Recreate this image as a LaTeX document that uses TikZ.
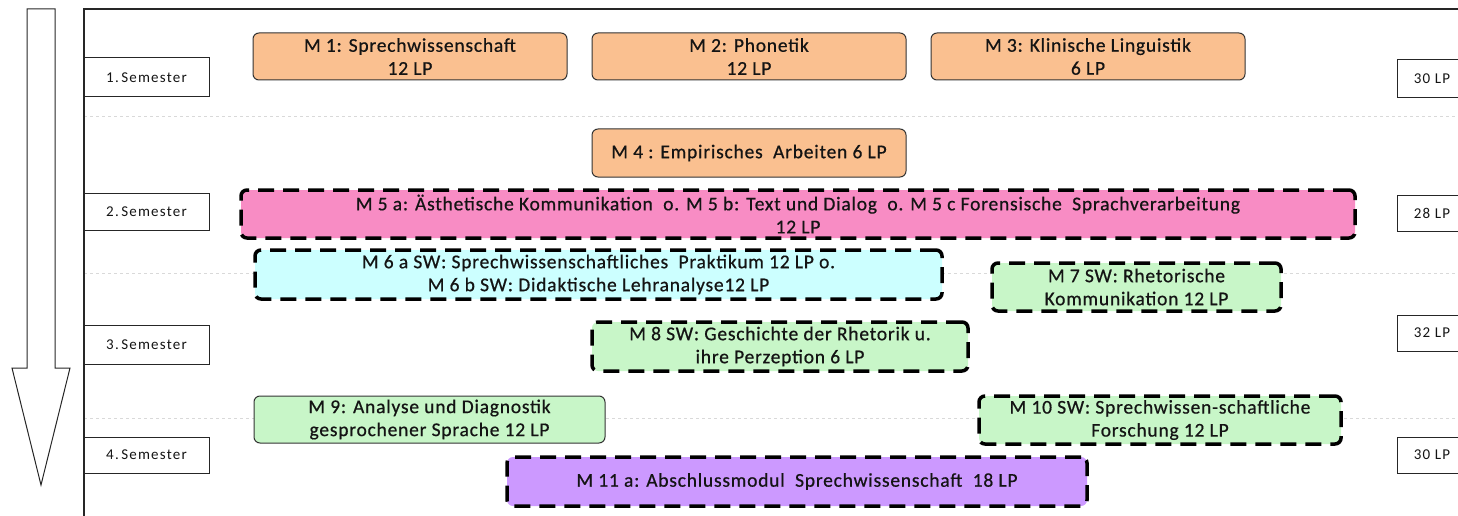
\documentclass[tikz,border=0pt]{standalone}
\usepackage{fontspec}
\setmainfont{Carlito}
\definecolor{orange}{RGB}{250,192,144}
\definecolor{rosa}{RGB}{248,140,196}
\definecolor{cyan}{RGB}{204,255,255}
\definecolor{gruen}{RGB}{200,246,200}
\definecolor{lila}{RGB}{204,153,255}
\definecolor{schrift}{RGB}{20,20,20}
\tikzset{
	modul/.style={rounded corners=6pt,align=center,inner sep=0pt,text=schrift,font=\fontsize{19.5}{23}\selectfont\addfontfeature{LetterSpace=4,FakeBold=0.6}},
	fest/.style={modul,draw=black!80,line width=1pt},
	wahl/.style={modul,draw=black,line width=3.5pt,dash pattern=on 16pt off 9pt},
	sem/.style={draw=black!85,line width=1pt,minimum width=125pt,inner sep=0pt,text=schrift,font=\fontsize{15}{17}\selectfont\addfontfeature{LetterSpace=8}},
	lp/.style={sem,minimum width=70pt}
}
\begin{document}
\begin{tikzpicture}[x=1pt,y=-1pt]
	\useasboundingbox (0,0) rectangle (1458,516);
	%separators
	\foreach \y in {117,273,418}
		\draw[black!15,dashed,line width=1pt] (84,\y) -- (1458,\y);
	%frame
	\draw[black!85,line width=1.2pt] (84,516) -- (84,9) -- (1458,9);
	%arrow
	\draw[black!85,line width=1pt] (27,9) -- (55,9) -- (55,368) -- (70,368) -- (41,485) -- (12,368) -- (27,368) -- cycle;

	%semester boxes
	\node[sem,minimum height=39pt] (sem1) at (146.5,77.5) {1.\,Semester};
	\node[sem,minimum height=37pt] (sem2) at (146.5,211.5) {2.\,Semester};
	\node[sem,minimum height=39pt] (sem3) at (146.5,344.5) {3.\,Semester};
	\node[sem,minimum height=36pt] (sem4) at (146.5,455) {4.\,Semester};

	%credit boxes
	\node[lp,minimum height=38pt] (lp1) at (1432,79) {30 LP};
	\node[lp,minimum height=36pt] (lp2) at (1432,213) {28 LP};
	\node[lp,minimum height=36pt] (lp3) at (1432,333) {32 LP};
	\node[lp,minimum height=36pt] (lp4) at (1432,455) {30 LP};

	%1. semester
	\node[fest,fill=orange,minimum width=314pt,minimum height=47pt] (m1) at (410,56.5) {M 1: Sprechwissenschaft\\12 LP};
	\node[fest,fill=orange,minimum width=314pt,minimum height=47pt] (m2) at (749,56.5) {M 2: Phonetik\\12 LP};
	\node[fest,fill=orange,minimum width=314pt,minimum height=47pt] (m3) at (1088,56.5) {M 3: Klinische Linguistik\\6 LP};

	%2. semester
	\node[fest,fill=orange,minimum width=314pt,minimum height=48pt] (m4) at (749,153) {M 4 : Empirisches\ \ Arbeiten 6 LP};
	\node[wahl,fill=rosa,minimum width=1114pt,minimum height=48pt] (m5) at (798,214) {M 5 a: Ästhetische Kommunikation\ \ o. M 5 b: Text und Dialog\ \ o. M 5 c Forensische\ \ Sprachverarbeitung\\12 LP};

	%3. semester
	\node[wahl,fill=cyan,minimum width=687pt,minimum height=49pt] (m6) at (598.5,274.5) {M 6 a SW: Sprechwissenschaftliches\ \ Praktikum 12 LP o.\\M 6 b SW: Didaktische Lehranalyse12 LP};
	\node[wahl,fill=gruen,minimum width=289pt,minimum height=48pt] (m7) at (1136.5,287) {M 7 SW: Rhetorische\\Kommunikation 12 LP};
	\node[wahl,fill=gruen,minimum width=376pt,minimum height=49pt] (m8) at (780,346.5) {M 8 SW: Geschichte der Rhetorik u.\\ihre Perzeption 6 LP};

	%4. semester
	\node[fest,fill=gruen,minimum width=351pt,minimum height=47pt] (m9) at (429.5,419.5) {M 9: Analyse und Diagnostik\\gesprochener Sprache 12 LP};
	\node[wahl,fill=gruen,minimum width=362pt,minimum height=48pt] (m10) at (1160,420) {M 10 SW: Sprechwissen-schaftliche\\Forschung 12 LP};
	\node[wahl,fill=lila,minimum width=580pt,minimum height=49pt] (m11) at (797,481.5) {M 11 a: Abschlussmodul\ \ Sprechwissenschaft\ \ 18 LP};
\end{tikzpicture}
\end{document}
